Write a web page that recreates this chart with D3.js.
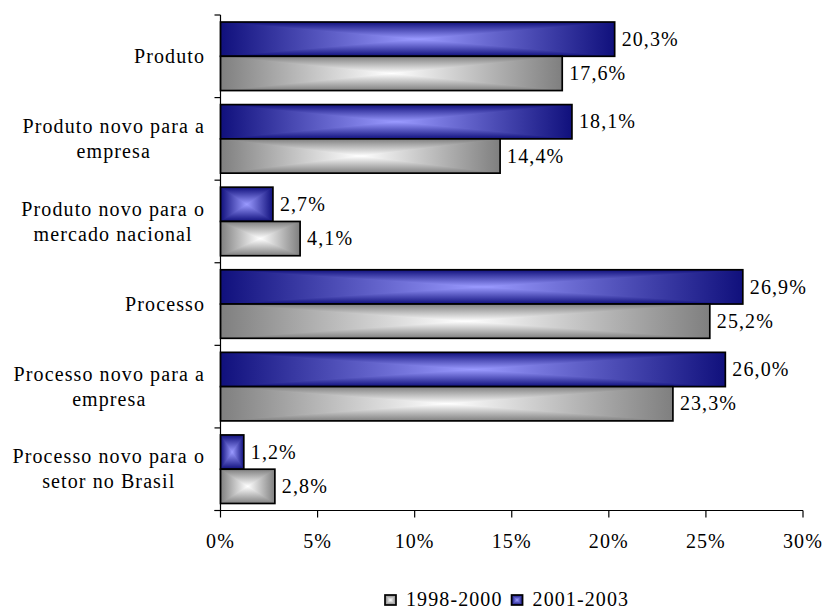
<!DOCTYPE html>
<html>
<head>
<meta charset="utf-8">
<script src="https://cdn.jsdelivr.net/npm/d3@7"></script>
<style>
  html, body { margin: 0; padding: 0; background: #ffffff; }
  svg { display: block; }
</style>
</head>
<body>
<svg id="chart" width="824" height="611"></svg>
<script>
// Categories (each entry is a list of wrapped label lines)
const categories = [
  ["Produto"],
  ["Produto novo para a", "empresa"],
  ["Produto novo para o", "mercado nacional"],
  ["Processo"],
  ["Processo novo para a", "empresa"],
  ["Processo novo para o", "setor no Brasil"]
];
const seriesNames = ["2001-2003", "1998-2000"];
const values2001 = [20.3, 18.1, 2.7, 26.9, 26.0, 1.2];
const values1998 = [17.6, 14.4, 4.1, 25.2, 23.3, 2.8];
const xTicks = [0, 5, 10, 15, 20, 25, 30];
const legendOrder = ["1998-2000", "2001-2003"];

const svg = d3.select("#chart");
const FONT = "Liberation Serif";
const FS = 20, LS = 1.1;
const x0 = 220.5, x1 = 803;
const y0 = 15, y1 = 510.5;

const fmt = v => v.toFixed(1).replace(".", ",") + "%";
const label = (g) => g.append("text")
  .style("font-family", FONT).attr("font-size", FS).attr("letter-spacing", LS).attr("fill", "#000");

const x = d3.scaleLinear().domain([0, 30]).range([x0, x1]);
const y = d3.scaleBand().domain(d3.range(categories.length)).range([y0, y1])
  .paddingInner(0.17).paddingOuter(0.085);
const ySeries = d3.scaleBand().domain(seriesNames).range([0, y.bandwidth()]);

// Rectangular "from centre" fill: dark at the edges, light in the middle
const palettes = {
  "2001-2003": { edge: "#10107c", mid: "#9a9aff" },
  "1998-2000": { edge: "#7f7f7f", mid: "#ffffff" }
};
const defs = svg.append("defs");
const gid = (s, d) => "g" + s.replace(/\D/g, "") + d;
Object.entries(palettes).forEach(([s, p]) => {
  const h = defs.append("linearGradient").attr("id", gid(s, "h"))
    .attr("x1", 0).attr("y1", 0).attr("x2", 1).attr("y2", 0);
  h.append("stop").attr("offset", 0).attr("stop-color", p.edge);
  h.append("stop").attr("offset", 0.5).attr("stop-color", p.mid);
  h.append("stop").attr("offset", 1).attr("stop-color", p.edge);
  const t = defs.append("linearGradient").attr("id", gid(s, "top"))
    .attr("x1", 0).attr("y1", 0).attr("x2", 0).attr("y2", 1);
  t.append("stop").attr("offset", 0).attr("stop-color", p.edge);
  t.append("stop").attr("offset", 1).attr("stop-color", p.mid);
  const b = defs.append("linearGradient").attr("id", gid(s, "bottom"))
    .attr("x1", 0).attr("y1", 1).attr("x2", 0).attr("y2", 0);
  b.append("stop").attr("offset", 0).attr("stop-color", p.edge);
  b.append("stop").attr("offset", 1).attr("stop-color", p.mid);
});

function drawBar(g, s, bx, by, bw, bh) {
  const cx = bx + bw / 2, cy = by + bh / 2;
  g.append("rect").attr("x", bx).attr("y", by).attr("width", bw).attr("height", bh)
    .attr("fill", `url(#${gid(s, "h")})`);
  const wedges = {
    top:    [[bx, by], [bx + bw, by], [cx, cy]],
    bottom: [[bx, by + bh], [bx + bw, by + bh], [cx, cy]]
  };
  Object.entries(wedges).forEach(([d, pts]) => {
    g.append("polygon")
      .attr("points", pts.map(p => p.join(",")).join(" "))
      .attr("fill", `url(#${gid(s, d)})`);
  });
  g.append("rect").attr("x", bx).attr("y", by).attr("width", bw).attr("height", bh)
    .attr("fill", "none").attr("stroke", "#000").attr("stroke-width", 1.7);
}

// Bars and value labels
const series = { "2001-2003": values2001, "1998-2000": values1998 };
const barLayer = svg.append("g");
categories.forEach((c, i) => {
  seriesNames.forEach(s => {
    const v = series[s][i];
    const by = y(i) + ySeries(s);
    const bh = ySeries.bandwidth();
    drawBar(barLayer, s, x(0), by, x(v) - x(0), bh);
    label(barLayer)
      .attr("x", x(v) + 7).attr("y", by + bh / 2)
      .attr("dy", "0.33em")
      .text(fmt(v));
  });
});

// Axes
const axisG = svg.append("g").attr("stroke", "#000").attr("stroke-width", 1.2);
axisG.append("line").attr("x1", x0).attr("x2", x0).attr("y1", y0).attr("y2", y1);
axisG.append("line").attr("x1", x0 - 6).attr("x2", x1).attr("y1", y1).attr("y2", y1);
// Category separator ticks on the vertical axis
const step = (y1 - y0) / categories.length;
d3.range(categories.length + 1).forEach(k => {
  const ty = y0 + k * step;
  axisG.append("line").attr("x1", x0 - 6).attr("x2", x0).attr("y1", ty).attr("y2", ty);
});
// Value ticks and labels
xTicks.forEach(t => {
  axisG.append("line").attr("x1", x(t)).attr("x2", x(t)).attr("y1", y1).attr("y2", y1 + 7);
  label(svg).attr("x", x(t)).attr("y", y1 + 37)
    .attr("text-anchor", "middle")
    .text(t + "%");
});

// Category labels: block right-aligned, lines centred within the block
const labelRight = 205;
categories.forEach((lines, i) => {
  const cy = y(i) + y.bandwidth() / 2;
  const g = svg.append("g");
  const lh = 25;
  const texts = lines.map((l, k) => label(g)
    .attr("y", cy + (k - (lines.length - 1) / 2) * lh)
    .attr("dy", "0.33em").text(l));
  const widths = texts.map(t => t.node().getComputedTextLength());
  const maxW = d3.max(widths);
  texts.forEach(t => t.attr("x", labelRight - maxW / 2).attr("text-anchor", "middle"));
});

// Legend
const legend = svg.append("g");
const legendY = 599;
let lx = 385;
legendOrder.forEach(s => {
  drawBar(legend, s, lx, legendY - 4, 11, 10);
  const t = label(legend).attr("x", lx + 21).attr("y", legendY).attr("dy", "0.33em").text(s);
  lx += 21 + t.node().getComputedTextLength() + 9;
});
</script>
</body>
</html>
